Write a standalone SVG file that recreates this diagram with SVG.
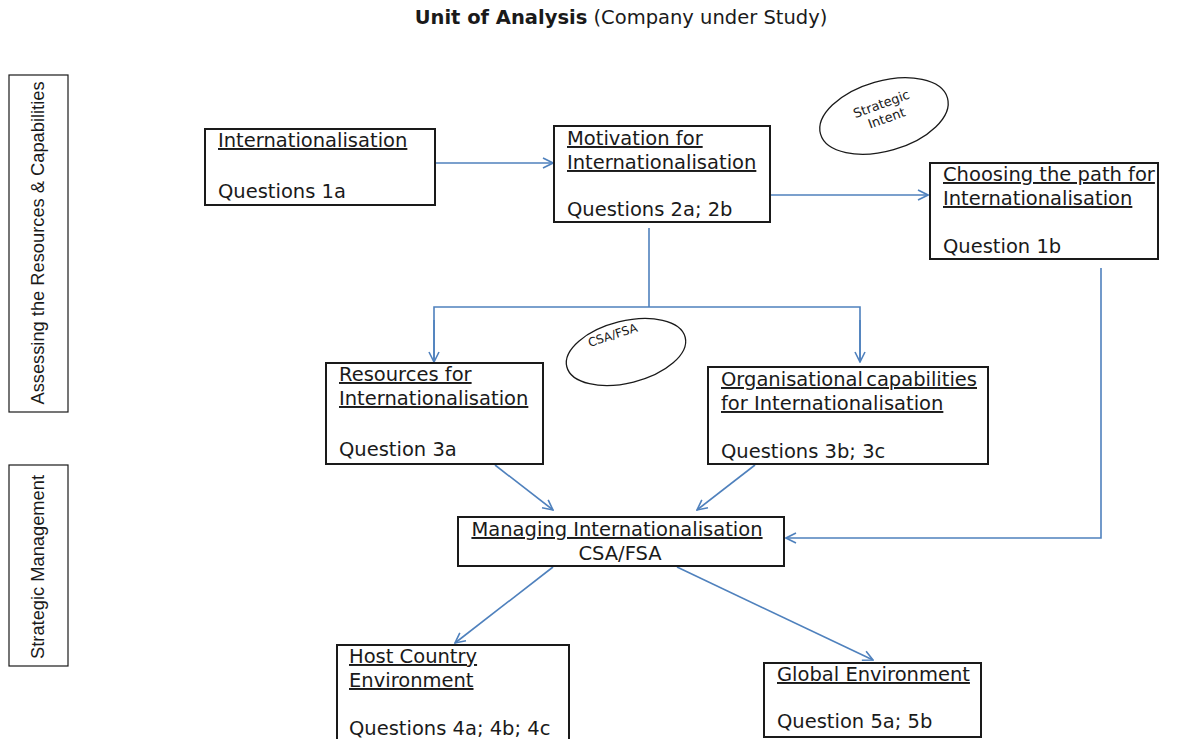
<svg xmlns="http://www.w3.org/2000/svg" width="1184" height="739" viewBox="0 0 1184 739">
  <style>
    .box { fill: #ffffff; stroke: #1a1a1a; stroke-width: 2; }
    .t { font-family: "DejaVu Sans", Verdana, sans-serif; font-size: 19.5px; fill: #1a1a1a; }
    .u { text-decoration: underline; }
    .side { font-family: "Liberation Sans", Arial, sans-serif; font-size: 18.3px; fill: #1a1a1a; }
    .small { font-family: "DejaVu Sans", Verdana, sans-serif; font-size: 13px; fill: #1a1a1a; }
    .oval { fill: none; stroke: #1a1a1a; stroke-width: 1.3; }
    .link { fill: none; stroke: #4f81bd; stroke-width: 1.6; }
  </style>
  <defs>
    <marker id="arrow" viewBox="0 0 12 12" refX="11" refY="6" markerWidth="12" markerHeight="12" markerUnits="userSpaceOnUse" orient="auto">
      <path d="M1,1 L11,6 L1,11" fill="none" stroke="#4f81bd" stroke-width="1.6"/>
    </marker>
  </defs>

  <rect width="1184" height="739" fill="#ffffff"/>

  <!-- heading -->
  <g id="title">
    <text x="621" y="24" text-anchor="middle" class="t" style="font-size:19.5px"><tspan font-weight="bold">Unit of Analysis</tspan> (Company under Study)</text>
  </g>

  <!-- side bands -->
  <g id="band-assessing">
    <rect x="9" y="75" width="59" height="337" fill="#ffffff" stroke="#1a1a1a" stroke-width="1.2"/>
    <text transform="translate(44,243) rotate(-90)" text-anchor="middle" class="side">Assessing the Resources &amp; Capabilities</text>
  </g>
  <g id="band-strategic">
    <rect x="9" y="465" width="59" height="201" fill="#ffffff" stroke="#1a1a1a" stroke-width="1.2"/>
    <text transform="translate(44,567) rotate(-90)" text-anchor="middle" class="side">Strategic Management</text>
  </g>

  <!-- connectors -->
  <g id="connectors">
    <line class="link" x1="436" y1="163" x2="553" y2="163" marker-end="url(#arrow)"/>
    <line class="link" x1="771" y1="195" x2="928" y2="195" marker-end="url(#arrow)"/>
    <line class="link" x1="649" y1="228" x2="649" y2="307"/>
    <polyline class="link" points="434,362 434,307 860,307 860,362"/>
    <line class="link" x1="434" y1="320" x2="434" y2="362" marker-end="url(#arrow)"/>
    <line class="link" x1="860" y1="320" x2="860" y2="362" marker-end="url(#arrow)"/>
    <line class="link" x1="495" y1="465" x2="553" y2="510" marker-end="url(#arrow)"/>
    <line class="link" x1="755" y1="465" x2="697" y2="510" marker-end="url(#arrow)"/>
    <polyline class="link" points="1101,268 1101,538 786,538" marker-end="url(#arrow)"/>
    <line class="link" x1="553" y1="567" x2="455" y2="643" marker-end="url(#arrow)"/>
    <line class="link" x1="677" y1="567" x2="873" y2="660" marker-end="url(#arrow)"/>
  </g>

  <!-- annotation ovals -->
  <g id="oval-strategic-intent">
    <ellipse cx="884" cy="116" rx="66" ry="35" transform="rotate(-16 884 116)" class="oval"/>
    <g transform="translate(884,111) rotate(-20)">
      <text x="0" y="-3" text-anchor="middle" class="small">Strategic</text>
      <text x="0" y="12" text-anchor="middle" class="small">Intent</text>
    </g>
  </g>
  <g id="oval-csa-fsa">
    <ellipse cx="626" cy="352" rx="61" ry="31" transform="rotate(-14 626 352)" class="oval"/>
    <text transform="translate(614,339) rotate(-18)" text-anchor="middle" class="small" style="font-size:12px">CSA/FSA</text>
  </g>

  <!-- nodes -->
  <g id="node-internationalisation">
    <rect x="205" y="129" width="230" height="76" class="box"/>
    <text x="218" y="147" class="t u">Internationalisation</text>
    <text x="218" y="198" class="t">Questions 1a</text>
  </g>

  <g id="node-motivation">
    <rect x="554" y="126" width="216" height="96" class="box"/>
    <text x="567" y="145" class="t u">Motivation for</text>
    <text x="567" y="169" class="t u">Internationalisation</text>
    <text x="567" y="216" class="t">Questions 2a; 2b</text>
  </g>

  <g id="node-choosing-path">
    <rect x="930" y="163" width="228" height="96" class="box"/>
    <text x="943" y="181" class="t u">Choosing the path for</text>
    <text x="943" y="205" class="t u">Internationalisation</text>
    <text x="943" y="253" class="t">Question 1b</text>
  </g>

  <g id="node-resources">
    <rect x="326" y="363" width="217" height="101" class="box"/>
    <text x="339" y="381" class="t u">Resources for</text>
    <text x="339" y="405" class="t u">Internationalisation</text>
    <text x="339" y="456" class="t">Question 3a</text>
  </g>

  <g id="node-capabilities">
    <rect x="708" y="367" width="280" height="97" class="box"/>
    <text x="721" y="386" class="t u" word-spacing="-3">Organisational capabilities</text>
    <text x="721" y="410" class="t u">for Internationalisation</text>
    <text x="721" y="458" class="t">Questions 3b; 3c</text>
  </g>

  <g id="node-managing">
    <rect x="458" y="517" width="326" height="49" class="box"/>
    <text x="617" y="536" text-anchor="middle" class="t u">Managing Internationalisation</text>
    <text x="620" y="560" text-anchor="middle" class="t">CSA/FSA</text>
  </g>

  <g id="node-host-country">
    <rect x="337" y="645" width="232" height="100" class="box"/>
    <text x="349" y="663" class="t u">Host Country</text>
    <text x="349" y="687" class="t u">Environment</text>
    <text x="349" y="735" class="t">Questions 4a; 4b; 4c</text>
  </g>

  <g id="node-global">
    <rect x="764" y="663" width="217" height="74" class="box"/>
    <text x="777" y="681" class="t u">Global Environment</text>
    <text x="777" y="728" class="t">Question 5a; 5b</text>
  </g>
</svg>
